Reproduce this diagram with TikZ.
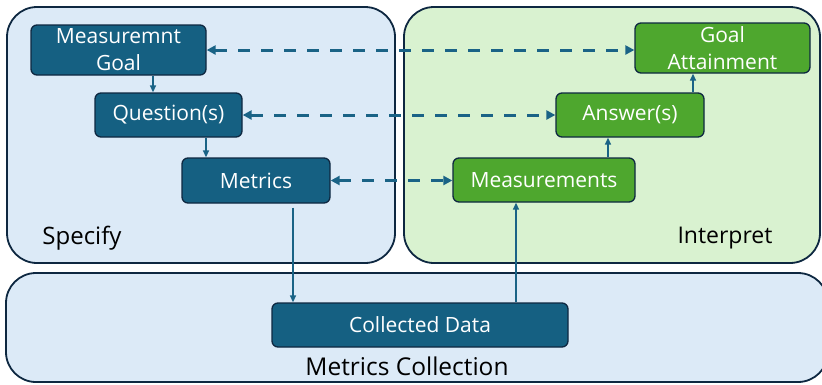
\documentclass[tikz,border=0pt]{standalone}
\usepackage{fontspec}
\setmainfont{Open Sans}
\usetikzlibrary{arrows.meta}

\definecolor{stepblue}{HTML}{156082}
\definecolor{stepgreen}{HTML}{4EA72E}
\definecolor{edgedark}{HTML}{0E2841}
\definecolor{areablue}{HTML}{DCEAF7}
\definecolor{areagreen}{HTML}{D9F2D0}
\definecolor{linkblue}{HTML}{1A6386}

\tikzset{
  area/.style={draw=edgedark, line width=1.8pt, rounded corners=30pt},
  stepbox/.style={draw=edgedark, line width=1.3pt, rounded corners=6pt,
    text=white, align=center, inner sep=0pt,
    font=\fontsize{21}{27}\selectfont},
  bluebox/.style={stepbox, fill=stepblue},
  greenbox/.style={stepbox, fill=stepgreen},
  arealabel/.style={text=black, font=\fontsize{24}{28}\selectfont},
  flow/.style={draw=linkblue, line width=1.4pt,
    -{Triangle[length=7pt,width=6pt]}},
  feedback/.style={draw=linkblue, line width=3pt, dash pattern=on 12pt off 11pt,
    {Triangle[length=9pt,width=9pt]}-{Triangle[length=9pt,width=9pt]}}
}

\begin{document}
\begin{tikzpicture}[x=1pt, y=-1pt]
  \useasboundingbox (0,0) rectangle (822,384);
  \clip (0,0) rectangle (822,384);

  % three working areas
  \draw[area, fill=areablue]  (7,7)    rectangle (395,263);
  \draw[area, fill=areagreen] (404,7)  rectangle (820,263);
  \draw[area, fill=areablue]  (6,273)  rectangle (828,382);

  \node[arealabel] (lspec) at (82,238)  {Specify};
  \node[arealabel, font=\fontsize{23}{27}\selectfont] (linterp) at (725,238) {Interpret};
  \node[arealabel, font=\fontsize{24.5}{28}\selectfont] (lcoll) at (407,366) {Metrics Collection};

  % specification chain
  \node[bluebox, minimum width=175pt, minimum height=50pt] (goal)  at (118.5,50) {Measuremnt\\Goal};
  \node[bluebox, minimum width=147pt, minimum height=44pt] (quest) at (168.5,115) {\raisebox{-1.5pt}{Question(s)}};
  \node[bluebox, minimum width=148pt, minimum height=45pt] (metr)  at (256,180.5) {Metrics};

  % interpretation chain
  \node[greenbox, minimum width=175pt, minimum height=50pt] (attain) at (722.5,48) {Goal\\Attainment};
  \node[greenbox, minimum width=148pt, minimum height=44pt] (answ)   at (630,115) {\raisebox{-1.5pt}{Answer(s)}};
  \node[greenbox, minimum width=182pt, minimum height=44pt] (meas)   at (544,180) {Measurements};

  % collection
  \node[bluebox, minimum width=296pt, minimum height=44pt] (data) at (420,325) {Collected Data};

  % solid flow arrows
  \draw[flow] ([xshift=34.5pt]goal.south) -- ([xshift=34.5pt]goal.south |- quest.north);
  \draw[flow] ([xshift=37.5pt]quest.south) -- ([xshift=37.5pt]quest.south |- metr.north);
  \draw[flow] ([xshift=37pt,yshift=-4pt]metr.south) -- ([xshift=37pt]metr.south |- data.north);
  \draw[flow] ([xshift=96pt]data.north) -- ([xshift=96pt]data.north |- meas.south);
  \draw[flow] ([xshift=64pt]meas.north) -- ([xshift=64pt]meas.north |- answ.south);
  \draw[flow] ([xshift=63pt]answ.north) -- ([xshift=63pt]answ.north |- attain.south);

  % dashed correspondences between the two sides
  \draw[feedback] (goal.east)  -- (goal.east -| attain.west);
  \draw[feedback] (quest.east) -- (quest.east -| answ.west);
  \draw[feedback] (metr.east)  -- (metr.east -| meas.west);
\end{tikzpicture}
\end{document}
